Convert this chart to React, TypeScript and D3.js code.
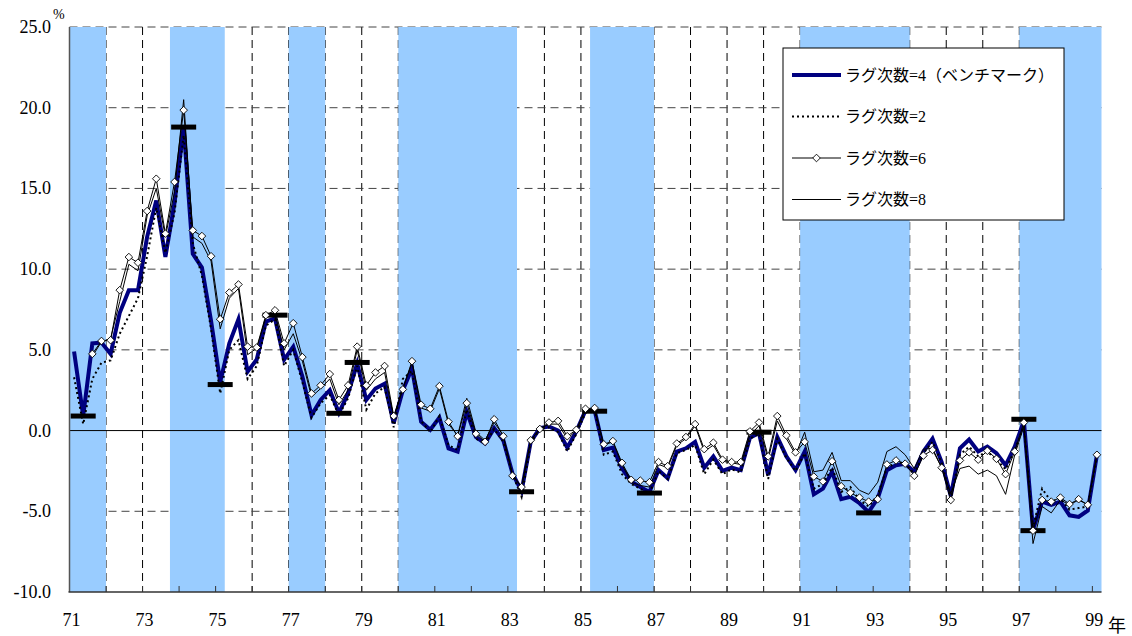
import React from "react";
import * as d3 from "d3";

// quarterly categories 71Q1 .. 99Q1 (113 points)
const yearLabels = ["71", "73", "75", "77", "79", "81", "83", "85", "87", "89", "91", "93", "95", "97", "99"];
const yTicks = [25, 20, 15, 10, 5, 0, -5, -10];

// recession shading: [first quarter index, last quarter index + 1]
const bands: [number, number][] = [
  [0, 4], [11, 17], [24, 28], [36, 49], [57, 64], [80, 92], [104, 113],
];

// lag = 4 (benchmark)
const lag4: (number | null)[] = [
  4.9, 0.9, 5.4, 5.45, 4.75, 7.3, 8.7, 8.7, 12.0, 14.25,
  10.75, 14.1, 18.8, 10.95, 10.1, 6.8, 3.0, 5.4, 6.9, 3.65,
  4.4, 6.75, 6.95, 4.4, 5.2, 3.35, 0.95, 1.9, 2.5, 1.1,
  2.3, 4.15, 1.9, 2.6, 2.9, 0.45, 2.5, 3.85, 0.55, 0.05,
  0.8, -1.1, -1.3, 1.15, -0.4, -0.8, 0.15, -0.6, -2.65, -3.75,
  -0.7, 0.15, 0.25, 0.0, -1.05, -0.05, 1.25, 1.25, -1.2, -1.05,
  -2.35, -3.15, -3.5, -3.8, -2.45, -2.95, -1.3, -1.1, -0.7, -2.3,
  -1.6, -2.5, -2.3, -2.45, -0.45, -0.15, -2.75, -0.4, -1.6, -2.45,
  -1.3, -3.95, -3.6, -2.55, -4.25, -4.1, -4.5, -5.05, -4.2, -2.45,
  -2.15, -2.05, -2.55, -1.3, -0.5, -1.95, -4.05, -1.1, -0.55, -1.3,
  -1.0, -1.4, -2.15, -1.0, 0.6, -6.15, -4.4, -4.6, -4.4, -5.25,
  -5.35, -4.95, -1.5,
];

// lag = 2
const lag2: (number | null)[] = [
  3.3, 0.4, 3.2, 4.2, 4.35, 6.0, 7.1, 8.2, 10.8, 13.8,
  11.0, 13.5, 18.3, 11.6, 9.6, 6.3, 2.3, 5.0, 5.6, 3.2,
  4.0, 6.5, 6.9, 4.0, 5.0, 3.0, 0.8, 1.7, 2.2, 0.95,
  2.0, 4.0, 1.3, 2.3, 2.7, 0.2, 3.2, 3.7, 0.6, -0.1,
  0.9, -0.9, -1.2, 1.3, -0.5, -0.8, 0.1, -0.7, -2.7, -4.1,
  -0.8, 0.1, 0.2, -0.1, -1.3, -0.2, 1.1, 1.3, -1.5, -1.3,
  -2.7, -3.3, -3.6, -3.9, -2.5, -3.0, -1.4, -1.2, -0.9, -2.7,
  -1.8, -2.7, -2.4, -2.6, -0.5, -0.2, -3.0, -0.5, -1.7, -2.5,
  -1.4, -3.6, -3.3, -2.3, -3.8, -3.5, -4.3, -4.7, -4.0, -2.3,
  -2.0, -2.0, -2.7, -1.4, -0.7, -2.0, -4.2, -1.5, -1.0, -1.6,
  -1.3, -1.8, -2.4, -1.2, 0.3, -6.0, -3.6, -4.4, -4.2, -4.9,
  -4.8, -4.7, -1.6,
];

// lag = 6
const lag6: (number | null)[] = [
  null, null, 4.75, 5.55, 5.6, 8.7, 10.75, 10.4, 13.6, 15.6,
  12.2, 15.4, 19.85, 12.4, 12.05, 10.8, 6.9, 8.55, 9.05, 5.2,
  5.15, 7.15, 7.45, 5.4, 6.65, 4.55, 2.3, 2.8, 3.5, 1.9,
  2.8, 5.2, 2.8, 3.6, 4.0, 0.9, 2.55, 4.3, 1.6, 1.35,
  2.75, 0.55, -0.35, 1.7, -0.2, -0.7, 0.7, -0.35, -2.8, -3.5,
  -0.6, 0.1, 0.5, 0.6, -0.35, 0.05, 1.35, 1.4, -0.85, -0.65,
  -2.0, -3.05, -3.1, -3.2, -1.95, -2.2, -0.8, -0.4, 0.4, -1.15,
  -0.75, -1.8, -1.95, -1.95, -0.05, 0.5, -1.6, 0.9, -0.3, -1.35,
  -0.7, -2.85, -3.15, -1.9, -3.45, -3.85, -4.15, -4.4, -4.25, -2.1,
  -1.85, -2.05, -2.8, -1.55, -1.2, -2.3, -4.3, -1.85, -1.35, -1.8,
  -1.25, -1.75, -2.7, -1.3, 0.5, -6.2, -4.3, -4.4, -4.15, -4.55,
  -4.25, -4.6, -1.5,
];

// lag = 8
const lag8: (number | null)[] = [
  null, null, 4.6, 5.5, 5.7, 8.0, 10.3, 9.9, 13.3, 15.0,
  12.0, 14.8, 20.5, 12.0, 11.6, 10.5, 6.3, 8.2, 8.8, 4.7,
  5.1, 7.0, 7.2, 5.0, 6.0, 4.3, 2.1, 2.6, 3.2, 1.6,
  2.5, 5.0, 2.5, 3.2, 3.6, 0.8, 2.6, 4.2, 1.4, 1.2,
  2.6, 0.4, -0.3, 2.0, -0.1, -0.6, 0.5, -0.3, -2.7, -3.5,
  -0.6, 0.1, 0.4, 0.4, -0.5, 0.0, 1.3, 1.3, -0.9, -0.7,
  -2.1, -3.2, -3.4, -3.5, -2.1, -2.3, -0.9, -0.5, 0.3, -1.3,
  -0.9, -1.9, -2.0, -2.1, -0.3, 0.3, -1.8, 0.6, -0.5, -1.5,
  -0.1, -2.55, -2.45, -1.35, -3.1, -3.1, -3.7, -3.95, -3.2, -1.3,
  -1.0, -1.5, -2.35, -1.15, -1.1, -2.3, -3.9, -2.35, -2.2, -2.7,
  -2.45, -2.8, -3.95, -1.5, 0.25, -7.0, -4.7, -5.1, -4.3, -4.6,
  -4.3, -4.6, -1.5,
];

// turning-point markers of the benchmark: [quarter index, value]
const turningPoints: [number, number][] = [
  [1, 0.9], [12, 18.8], [16, 2.85], [22, 7.15], [29, 1.07], [31, 4.22],
  [49, -3.79], [57, 1.2], [63, -3.87], [75, -0.1], [87, -5.1], [104, 0.7], [105, -6.2],
];

const legendLabels = ["ラグ次数=4（ベンチマーク）", "ラグ次数=2", "ラグ次数=6", "ラグ次数=8"];

const W = 1132;
const H = 636;
const NCAT = 113;
const FONT = "'Liberation Serif', 'Times New Roman', Times, 'Noto Sans CJK JP', serif";
const txt: React.CSSProperties = { fontFamily: FONT };

export default function App() {
  const x = d3.scaleLinear().domain([0, NCAT]).range([69.5, 1101.5]);
  const y = d3.scaleLinear().domain([-10, 25]).range([592, 27]);
  const cx = (i: number) => x(i + 0.5);

  const line = d3
    .line<number | null>()
    .defined((d) => d != null)
    .x((_, i) => cx(i))
    .y((d) => y(d as number));

  const yearTickIdx = d3.range(4, NCAT, 4); // year boundaries
  const gridY = yTicks.filter((t) => t !== 0 && t !== -10);

  const diamond = (px: number, py: number, r: number) =>
    `M${px},${py - r}L${px + r},${py}L${px},${py + r}L${px - r},${py}Z`;

  const legX = 783;
  const legY = 48;
  const rowY = [75, 116.5, 158, 199.5];

  return (
    <svg width={W} height={H} style={{ position: "absolute", left: 0, top: 0, background: "#fff" }}>
      <rect x={0} y={0} width={W} height={H} fill="#fff" />
      {/* vertical dashed grid */}
      {yearTickIdx.map((i) => (
        <line key={"vg" + i} x1={x(i)} x2={x(i)} y1={y(25)} y2={y(-10)} stroke="#000" strokeWidth={1} strokeDasharray="8,5" />
      ))}
      {/* horizontal dashed grid */}
      {gridY.map((t) => (
        <line key={"hg" + t} x1={x(0)} x2={x(NCAT)} y1={y(t)} y2={y(t)} stroke="#444" strokeWidth={1} strokeDasharray="8,5" />
      ))}
      {/* recession bands */}
      {bands.map(([a, b], k) => (
        <rect key={"b" + k} x={x(a)} y={y(25)} width={x(b) - x(a)} height={y(-10) - y(25)} fill="#99CCFF" />
      ))}
      {/* zero line */}
      <line x1={x(0)} x2={x(NCAT)} y1={y(0)} y2={y(0)} stroke="#000" strokeWidth={1} />
      {/* axes */}
      <line x1={x(0)} x2={x(0)} y1={y(25)} y2={y(-10)} stroke="#555" strokeWidth={1.5} />
      <line x1={x(0) - 1} x2={x(NCAT)} y1={y(-10)} y2={y(-10)} stroke="#333" strokeWidth={1.5} />
      {yearTickIdx.map((i) => (
        <line key={"xt" + i} x1={x(i)} x2={x(i)} y1={y(-10)} y2={y(-10) - 6} stroke="#333" strokeWidth={1} />
      ))}
      {/* y labels */}
      {yTicks.map((t) => (
        <text key={"yl" + t} x={51} y={y(t)} dy="0.33em" textAnchor="end" fontSize={18} fill="#000" style={txt}>
          {t.toFixed(1)}
        </text>
      ))}
      <text x={53} y={19} fontSize={14} fill="#000" style={txt}>%</text>
      {/* x labels */}
      {yearLabels.map((lab, k) => (
        <text key={"xl" + lab} x={x(k * 8) + 2} y={626} textAnchor="middle" fontSize={18} fill="#000" style={txt}>
          {lab}
        </text>
      ))}
      <text x={1108} y={632} fontSize={18} fill="#000" style={txt}>年</text>

      {/* series */}
      <path d={line(lag4) || ""} fill="none" stroke="#000080" strokeWidth={4} strokeLinejoin="miter" />
      <path d={line(lag2) || ""} fill="none" stroke="#000" strokeWidth={2} strokeDasharray="2,3" />
      {turningPoints.map(([i, v], k) => (
        <rect key={"tp" + k} x={cx(i) - 12.5} y={y(v) - 2.5} width={25} height={5} fill="#000" />
      ))}
      <path d={line(lag8) || ""} fill="none" stroke="#000" strokeWidth={1} />
      <path d={line(lag6) || ""} fill="none" stroke="#000" strokeWidth={1} />
      {lag6.map((v, i) =>
        v == null ? null : (
          <path key={"dm" + i} d={diamond(cx(i), y(v), 3.8)} fill="#fff" stroke="#000" strokeWidth={0.9} />
        )
      )}

      {/* legend */}
      <rect x={legX} y={legY} width={281} height={172} fill="#fff" stroke="#000" strokeWidth={1} />
      <line x1={792} x2={841} y1={rowY[0]} y2={rowY[0]} stroke="#000080" strokeWidth={4} />
      <line x1={792} x2={841} y1={rowY[1]} y2={rowY[1]} stroke="#000" strokeWidth={2} strokeDasharray="2,3" />
      <line x1={792} x2={841} y1={rowY[2]} y2={rowY[2]} stroke="#000" strokeWidth={1} />
      <path d={diamond(816.5, rowY[2], 3.8)} fill="#fff" stroke="#000" strokeWidth={0.9} />
      <line x1={792} x2={841} y1={rowY[3]} y2={rowY[3]} stroke="#000" strokeWidth={1} />
      {legendLabels.map((lab, k) => (
        <text key={"lg" + k} x={845} y={rowY[k]} dy="0.35em" fontSize={16} fill="#000" style={txt}>
          {lab}
        </text>
      ))}
    </svg>
  );
}
